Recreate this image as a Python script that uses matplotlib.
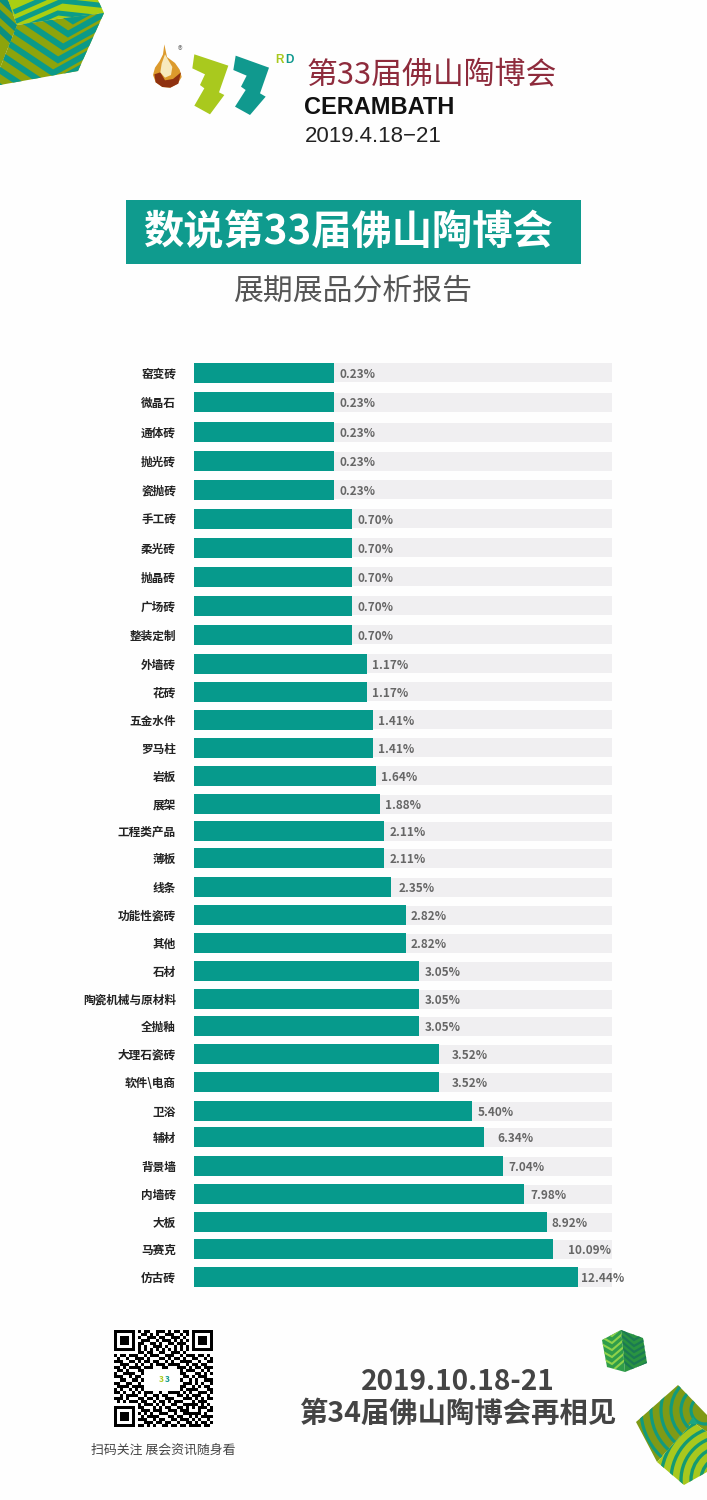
"""Foshan ceramics fair poster: share of exhibits by category, as horizontal bars."""

import matplotlib

matplotlib.use("Agg")
import matplotlib.pyplot as plt
import numpy as np
from matplotlib.patches import Circle, Polygon

CJK = ["Noto Sans CJK SC", "DejaVu Sans"]
TEAL = "#069a8c"
TRACK = "#f0eff1"

categories = ["窑变砖", "微晶石", "通体砖", "抛光砖", "瓷抛砖", "手工砖", "柔光砖", "抛晶砖", "广场砖",
              "整装定制", "外墙砖", "花砖", "五金水件", "罗马柱", "岩板", "展架", "工程类产品", "薄板",
              "线条", "功能性瓷砖", "其他", "石材", "陶瓷机械与原材料", "全抛釉", "大理石瓷砖", "软件\\电商",
              "卫浴", "辅材", "背景墙", "内墙砖", "大板", "马赛克", "仿古砖"]
value_labels = ["0.23%", "0.23%", "0.23%", "0.23%", "0.23%", "0.70%", "0.70%", "0.70%", "0.70%",
                "0.70%", "1.17%", "1.17%", "1.41%", "1.41%", "1.64%", "1.88%", "2.11%", "2.11%",
                "2.35%", "2.82%", "2.82%", "3.05%", "3.05%", "3.05%", "3.52%", "3.52%",
                "5.40%", "6.34%", "7.04%", "7.98%", "8.92%", "10.09%", "12.44%"]
# the poster's bars are not to scale, so lengths are read off separately from the printed values
bar_lengths = [141, 141, 141, 141, 141, 159, 159, 159, 159, 159, 173.5, 173.5, 179.5, 179.5, 182.5,
               186.5, 191, 191, 197.5, 212.5, 212.5, 226, 226, 226, 246, 246, 278.5, 290.5, 309.5,
               331, 353.5, 360, 384.5]

# layout, in poster pixels
row_y = [373, 402, 432, 461, 490, 519, 548, 577, 606, 635, 664, 692, 720, 748, 776, 804, 831, 858,
         887, 915, 943, 971, 999, 1026, 1054, 1082, 1111, 1137, 1166, 1194, 1222, 1249, 1277]
label_gap = [5.5, 5.5, 5.5, 5.5, 5.5, 5.5, 5.5, 5.5, 5.5, 5.5, 5, 5, 5.5, 5.5, 5, 5, 5, 5, 8, 5, 5,
             5, 5, 5, 12, 12, 5.5, 13, 5, 6, 5, 15, 3]

QR_ROWS = [
    "111111101011001110101101101111111",
    "100000100110101001110010101000001",
    "101110101001110110011101001011101",
    "101110100111001011101010101011101",
    "101110101100110100110111001011101",
    "100000101010011101001010101000001",
    "111111101010101010101010101111111",
    "000000001101100110011101000000000",
    "101101110010111001110010111011010",
    "010010011101000110101101001100101",
    "111001101011011001010011110010011",
    "001110010100101110111100101101100",
    "110101111011100011000111010110111",
    "011010001100000000000010111001010",
    "100111100100000000000011000110101",
    "111001011000000000000001101011100",
    "001100110100000000000010010100111",
    "110011001000000000000001110101001",
    "011110111100000000000011001010110",
    "101001010100000000000010111100011",
    "110100101011100100111101010011101",
    "001011110010011011000110101110010",
    "111010001101101001110001110101011",
    "010101110110010110101110001011100",
    "000000001011101010011001111101010",
    "111111101100010101100110101011101",
    "100000100111011100111011100010011",
    "101110101010100111001001111110100",
    "101110100101111000110110010101111",
    "101110101110010110011011101010010",
    "100000100011101101100100110101101",
    "111111101101010011011011011110110",
    "000000000000000000000000000000000",
]


def stripes(ax, face, base, color, lines, lw):
    """Fill a cube face and lay clipped polylines over it."""
    patch = Polygon(face, closed=True, facecolor=base, edgecolor="none", zorder=2)
    ax.add_patch(patch)
    for pts in lines:
        xs, ys = zip(*pts)
        line, = ax.plot(xs, ys, color=color, lw=lw, zorder=3, solid_joinstyle="miter")
        line.set_clip_path(patch)


def arcs(ax, face, base, color, center, radii, lw):
    """Fill a cube face and lay clipped concentric rings over it."""
    patch = Polygon(face, closed=True, facecolor=base, edgecolor="none", zorder=2)
    ax.add_patch(patch)
    for r in radii:
        ring = Circle(center, r, fill=False, edgecolor=color, lw=lw, zorder=3)
        ax.add_patch(ring)
        ring.set_clip_path(patch)


def chevrons(apex, left, right, step, count):
    """Nested V shapes, the apex moving by step each time."""
    out = []
    for i in range(-count, count + 1):
        ax_, ay = apex[0] + i * step[0], apex[1] + i * step[1]
        out.append([(ax_ + left[0], ay + left[1]), (ax_, ay), (ax_ + right[0], ay + right[1])])
    return out


def draw_cubes(ax):
    # top left cube
    stripes(ax, [(8, 0), (98, 0), (104, 13), (57, 19), (17, 25)], "#a9cf12", "#0c9c88",
            chevrons((58, 13), (-50, 22), (55, 6), (4, -12), 3), 3.6)
    stripes(ax, [(17, 25), (57, 19), (104, 13), (78, 71), (0, 85), (0, 68)], "#8da40c", "#0b9a88",
            chevrons((63, 47), (-45, -30), (45, -25), (-5, 13), 5), 4.4)
    stripes(ax, [(0, 0), (8, 0), (17, 25), (0, 68)], "#8da40c", "#0b8f80",
            [[(-4, y), (20, y + 22)] for y in (-22, -6, 10, 26)], 4.5)
    # small cube
    stripes(ax, [(602, 1340), (621, 1330), (623, 1348), (625, 1372), (607, 1367)], "#2f9d4a", "#8ed24a",
            chevrons((612, 1350), (-14, -8), (14, -12), (0, 7), 3), 1.5)
    stripes(ax, [(621, 1330), (643, 1338), (647, 1363), (625, 1372), (623, 1348)], "#2a9442", "#1b7a52",
            chevrons((634, 1352), (-12, -10), (14, -8), (0, 6), 3), 1.6)
    # big cube, bottom right
    arcs(ax, [(678, 1385), (636, 1422), (657, 1462), (693, 1422), (707, 1432), (707, 1415)],
         "#7f9a16", "#129a7c", (705, 1410), np.arange(14, 80, 10), 2.3)
    arcs(ax, [(693, 1422), (657, 1462), (684, 1485), (707, 1472), (707, 1432)],
         "#a8c81e", "#149a72", (725, 1480), np.arange(14, 90, 10), 2.4)
    ax.add_patch(Polygon([(693, 1417), (688, 1424), (698, 1424)], facecolor="#19a583", zorder=4))


def draw_logo(ax):
    lime = [(148, 58), (250, 92), (222, 172), (238, 180), (195, 238), (148, 212), (178, 160), (165, 150), (180, 118), (142, 100)]
    teal = [(272, 62), (372, 98), (345, 175), (362, 185), (315, 240), (270, 215), (302, 165), (288, 155), (305, 122), (265, 105)]
    for shape, color in ((lime, "#a9c91e"), (teal, "#10998e")):
        ax.add_patch(Polygon([(145 + x / 3, 35 + y / 3) for x, y in shape], facecolor=color, zorder=2))
    flames = [
        ([(58, 28), (66, 66), (90, 84), (104, 104), (110, 126), (98, 146), (76, 158), (52, 156), (32, 142), (24, 120), (30, 98), (44, 78), (54, 58)], "#dc9a2c"),
        ([(28, 118), (46, 112), (60, 136), (84, 132), (108, 112), (100, 146), (76, 158), (52, 156), (32, 142)], "#8f3110"),
        ([(60, 58), (82, 96), (78, 120), (60, 128), (46, 112), (50, 86)], "#f7e9bd"),
    ]
    for shape, color in flames:
        ax.add_patch(Polygon([(145 + x / 3, 35 + y / 3) for x, y in shape], facecolor=color, zorder=2))
    ax.text(179.5, 51, "®", fontsize=7, color="#777777", ha="center", va="center", zorder=3)
    ax.text(275, 60, "R", fontsize=8.5, fontweight="bold", color="#a9c91e", ha="left", va="center", family="Liberation Sans")
    ax.text(285, 60, "D", fontsize=8.5, fontweight="bold", color="#10998e", ha="left", va="center", family="Liberation Sans")
    ax.text(307, 75, "第33届佛山陶博会", fontsize=22.2, color="#8e2b3c", ha="left", va="center", family=CJK)
    ax.text(304, 108, "CERAMBATH", fontsize=17, fontweight="bold", color="#111111", ha="left", va="center", family="Liberation Sans")
    ax.text(305, 137, "2019.4.18\u221221", fontsize=16, color="#222222", ha="left", va="center", family="Liberation Sans")


def draw_header(ax):
    ax.add_patch(Polygon([(126, 200), (581, 200), (581, 264), (126, 264)], facecolor="#0f9b8e", zorder=2))
    ax.text(143, 233, "数说第33届佛山陶博会", fontsize=29, fontweight="bold", color="white",
            ha="left", va="center", family=CJK, zorder=3)
    ax.text(352.5, 291, "展期展品分析报告", fontsize=21.5, color="#555555", ha="center", va="center", family=CJK)


def draw_footer(ax):
    qr = np.array([[int(c) for c in row] for row in QR_ROWS])
    ax.imshow(qr, cmap="gray_r", vmin=0, vmax=1, extent=(114, 213, 1430, 1330), aspect="auto",
              interpolation="nearest", zorder=2)
    ax.add_patch(Polygon([(153, 1370), (176, 1370), (176, 1389), (153, 1389)], facecolor="white", zorder=3))
    ax.text(161, 1380, "3", fontsize=6, fontweight="bold", color="#a9c91e", ha="center", va="center", zorder=4)
    ax.text(167, 1380, "3", fontsize=6, fontweight="bold", color="#10998e", ha="center", va="center", zorder=4)
    ax.text(163, 1450, "扫码关注 展会资讯随身看", fontsize=9.3, color="#444444", ha="center", va="center", family=CJK)
    ax.text(457.5, 1382, "2019.10.18-21", fontsize=20.2, fontweight="bold", color="#444444", ha="center", va="center", family=CJK)
    ax.text(458, 1414, "第34届佛山陶博会再相见", fontsize=20.4, fontweight="bold", color="#444444", ha="center", va="center", family=CJK)


def main():
    plt.rcParams["font.family"] = CJK
    w, h = 707, 1500
    fig = plt.figure(figsize=(w / 100, h / 100), dpi=100, facecolor="#fefefe")

    bg = fig.add_axes([0, 0, 1, 1])
    bg.set_axis_off()
    draw_cubes(bg)
    draw_logo(bg)
    draw_header(bg)
    draw_footer(bg)
    bg.set_xlim(0, w)
    bg.set_ylim(h, 0)

    # bar panel: y axis runs in poster pixels so that rows can sit where they do in the reference
    left, right, top, bottom = 193.5, 612, 355, 1295
    ax = fig.add_axes([left / w, 1 - bottom / h, (right - left) / w, (bottom - top) / h])
    ax.patch.set_alpha(0)
    ax.barh(row_y, [right - left] * len(row_y), height=19, color=TRACK, zorder=1)
    ax.barh(row_y, bar_lengths, height=20.5, color=TEAL, zorder=2)
    for y, length, gap, label in zip(row_y, bar_lengths, label_gap, value_labels):
        ax.text(length + gap, y + 1.5, label, fontsize=8.5, fontweight="bold", color="#666666",
                ha="left", va="center", family=CJK, zorder=3, clip_on=False)
    ax.set_xlim(0, right - left)
    ax.set_ylim(bottom, top)
    ax.set_yticks(row_y, categories, fontsize=8.4, fontweight="bold", color="#222222")
    ax.set_xticks([])
    ax.tick_params(axis="y", length=0, pad=12.6)
    for side in ax.spines.values():
        side.set_visible(False)

    fig.savefig("out.png", dpi=100, facecolor=fig.get_facecolor())


if __name__ == "__main__":
    main()
